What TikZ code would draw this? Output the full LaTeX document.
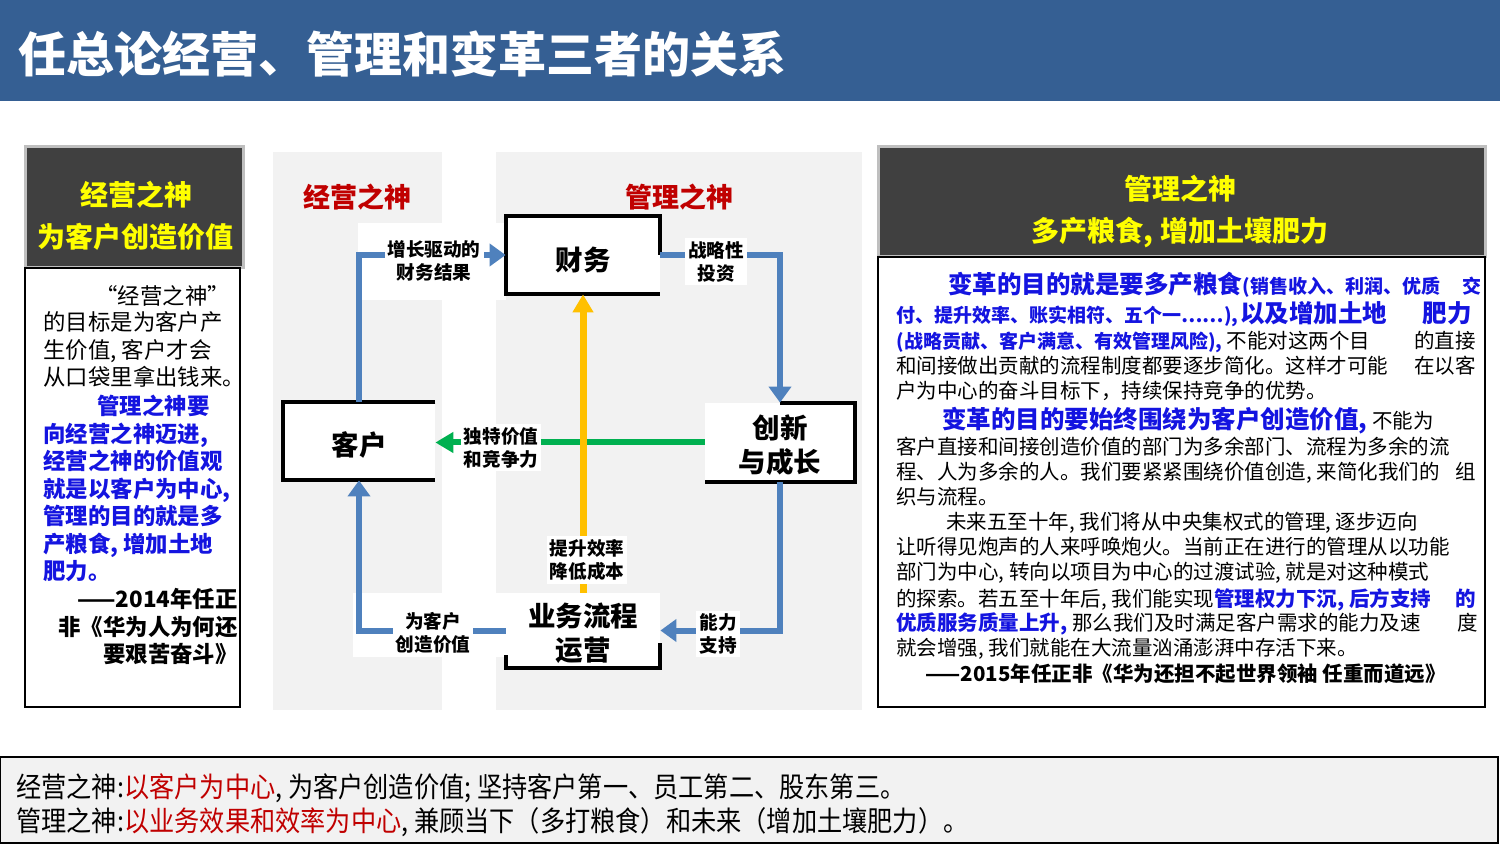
\documentclass[tikz,border=0pt]{standalone}
\usepackage{fontspec}
\setmainfont{Noto Sans CJK SC}
\newfontfamily\narrowcjk{Noto Sans CJK SC}[FakeStretch=0.9]
\usetikzlibrary{arrows.meta,positioning,calc}

\definecolor{titleblue}{HTML}{355F93}
\definecolor{headgray}{HTML}{404040}
\definecolor{edgegray}{HTML}{BFBFBF}
\definecolor{panelgray}{HTML}{F2F2F2}
\definecolor{arrowblue}{HTML}{4F81BD}
\definecolor{arrowyellow}{HTML}{FFC000}
\definecolor{arrowgreen}{HTML}{00B050}
\definecolor{textblue}{HTML}{1414E0}
\definecolor{godred}{HTML}{C00000}
\definecolor{headyellow}{HTML}{FFFF00}

\newcommand\hlbig[1]{{\color{textblue}\bfseries\fontsize{12.25}{14}\selectfont #1}}
\newcommand\hlsmall[1]{{\color{textblue}\bfseries\fontsize{9.5}{12}\selectfont #1}}
\newcommand\hlblue[1]{{\color{textblue}\bfseries #1}}
\newcommand\hlred[1]{{\color{godred}#1}}
% box text sits a little below the box middle
\newcommand\boxtext[2][4pt]{\raisebox{-#1}[\height][\depth]{\begin{tabular}{@{}c@{}}#2\end{tabular}}}

\begin{document}
\begin{tikzpicture}[x=0.5pt, y=-0.5pt,
    panel/.style={draw=black, line width=0.6pt, fill=white},
    headbox/.style={fill=headgray, draw=edgegray, line width=1.5pt},
    headtxt/.style={text=headyellow, align=center, font=\bfseries\fontsize{14}{21}\selectfont},
    flowbox/.style={fill=white, inner sep=0pt, align=center, font=\bfseries\fontsize{13.75}{16.5}\selectfont},
    boxline/.style={line width=2pt},
    bluearrow/.style={draw=arrowblue, line width=3pt, -{Triangle[width=11pt,length=8pt]}},
    yellowarrow/.style={draw=arrowyellow, line width=3.5pt, -{Triangle[width=10pt,length=9pt]}},
    greenarrow/.style={draw=arrowgreen, line width=3pt, -{Triangle[width=10pt,length=9pt]}},
    arrowlabel/.style={fill=white, inner xsep=1.5pt, inner ysep=1.5pt, align=center, font=\bfseries\fontsize{9.3}{11.5}\selectfont},
    godlabel/.style={text=godred, font=\bfseries\fontsize{13.5}{16}\selectfont},
    ltxt/.style={anchor=base west, inner sep=0pt, font=\fontsize{11.2}{13.75}\selectfont},
    rtxt/.style={anchor=base west, inner sep=0pt, font=\fontsize{10.25}{12.5}\selectfont}]
  \useasboundingbox (0,0) rectangle (1500,844);

  % title bar
  \fill[titleblue] (0,0) rectangle (1500,101);
  \node[anchor=base west, inner sep=0pt, text=white, font=\bfseries\fontsize{24}{28}\selectfont]
    (title) at (18,73) {任总论经营、管理和变革三者的关系};

  % left column
  \draw[headbox] (25,147) rectangle (243,268);
  \node[headtxt] (lhead) at (136,216) {经营之神\\为客户创造价值};
  \draw[panel] (25,268) rectangle (240,707);
  \node[ltxt] (la0) at (95,304.5) {“经营之神”};
  \foreach \t [count=\i] in {的目标是为客户产, {生价值, 客户才会}, 从口袋里拿出钱来。}
    \node[ltxt] (la\i) at (43,303.5+27.5*\i) {\t};
  \node[ltxt, text=textblue, font=\bfseries\fontsize{11.2}{13.75}\selectfont] (lb0) at (97,414.5) {管理之神要};
  \foreach \t [count=\i] in {{向经营之神迈进,}, 经营之神的价值观, {就是以客户为中心,}, 管理的目的就是多, {产粮食, 增加土地}, 肥力。}
    \node[ltxt, text=textblue, font=\bfseries\fontsize{11.2}{13.75}\selectfont] (lb\i) at (43,415+27.5*\i) {\t};
  \foreach \t [count=\i] in {——2014年任正, 非《华为人为何还, 要艰苦奋斗》}
    \node[ltxt, anchor=base east, font=\bfseries\fontsize{11.2}{13.75}\selectfont] (lc\i) at (238,580+27.5*\i) {\t};

  % centre diagram
  \fill[panelgray] (273,152) rectangle (442,710);
  \fill[panelgray] (496,152) rectangle (862,710);
  \fill[white] (358,223) rectangle (506,300);
  \fill[white] (353,593) rectangle (508,657);
  \node[godlabel] (jy) at (357,197) {经营之神};
  \node[godlabel] (gl) at (679,197) {管理之神};

  \node[flowbox, minimum width=77pt, minimum height=39pt] (cw) at (583,255) {\boxtext[4.5pt]{财务}};
  \node[flowbox, minimum width=76pt, minimum height=39pt] (kh) at (359,441) {\boxtext{客户}};
  \node[flowbox, minimum width=75pt, minimum height=39.5pt] (cx) at (780,442.5) {\boxtext[3pt]{创新\\与成长}};
  \node[flowbox, minimum width=77pt, minimum height=37.5pt] (yw) at (583,630.5) {\boxtext[3pt]{业务流程\\运营}};

  \draw[boxline] (cw.east) -- (cw.north east) -- (cw.north west) -- (cw.south west) -- (cw.south east);
  \draw[boxline] (kh.north east) -- (kh.north west) -- (kh.south west) -- (kh.south east);
  \draw[boxline] (cx.north) -- (cx.north east) -- (cx.south east) -- (cx.south west);
  \draw[boxline] (yw.south west) ++(0,-13) -- (yw.south west) -- (yw.south east) -- ++(0,-25);

  \draw[greenarrow] (cx.west) -- (cx.west -| kh.east);
  \draw[yellowarrow] (yw.north) -- (cw.south);
  \draw[bluearrow] (kh.north) |- (cw.west);
  \draw[bluearrow] (cw.east) -| (cx.north);
  \draw[bluearrow] (cx.south) |- (yw.east);
  \draw[bluearrow] (yw.west) -| (kh.south);

  \node[arrowlabel] (lgr) at (434,260.5) {增长驱动的\\财务结果};
  \node[arrowlabel] (lzl) at (716,261.5) {战略性\\投资};
  \node[arrowlabel] (lnl) at (718,634) {能力\\支持};
  \node[arrowlabel] (lwk) at (433,633) {为客户\\创造价值};
  \node[arrowlabel] (ldt) at (501,447.5) {独特价值\\和竞争力};
  \node[arrowlabel] (lts) at (587,560) {提升效率\\降低成本};

  % right column
  \draw[headbox] (878,147) rectangle (1485,257);
  \node[headtxt] (rhead) at (1180,211) {管理之神\\多产粮食, 增加土壤肥力};
  \draw[panel] (878,257) rectangle (1485,707);
  \node[rtxt] (r1a) at (948,294) {\hlbig{变革的目的就是要多产粮食}\hlsmall{(销售收入、利润、优质}};
  \node[rtxt, anchor=base east] (r1b) at (1482,294) {\hlsmall{交}};
  \node[rtxt] (r2a) at (896,323) {\hlsmall{付、提升效率、账实相符、五个一……),}};
  \node[rtxt] (r2b) at (1240,323) {\hlbig{以及增加土地}};
  \node[rtxt, anchor=base east] (r2c) at (1472,323) {\hlbig{肥力}};
  \node[rtxt] (r3a) at (896,349) {\hlsmall{(战略贡献、客户满意、有效管理风险),} 不能对这两个目};
  \node[rtxt, anchor=base east] (r3b) at (1476,349) {的直接};
  \node[rtxt] (r4a) at (896,374) {和间接做出贡献的流程制度都要逐步简化。这样才可能};
  \node[rtxt, anchor=base east] (r4b) at (1476,374) {在以客};
  \node[rtxt] (r5) at (896,399) {户为中心的奋斗目标下，持续保持竞争的优势。};
  \node[rtxt] (r6) at (942,429) {\hlbig{变革的目的要始终围绕为客户创造价值,} 不能为};
  \node[rtxt] (r7) at (896,455) {客户直接和间接创造价值的部门为多余部门、流程为多余的流};
  \node[rtxt] (r8a) at (896,480) {程、人为多余的人。我们要紧紧围绕价值创造, 来简化我们的};
  \node[rtxt, anchor=base east] (r8b) at (1476,480) {组};
  \node[rtxt] (r9) at (896,505) {织与流程。};
  \node[rtxt] (r10) at (946,530) {未来五至十年, 我们将从中央集权式的管理, 逐步迈向};
  \node[rtxt] (r11) at (896,555) {让听得见炮声的人来呼唤炮火。当前正在进行的管理从以功能};
  \node[rtxt] (r12) at (896,580) {部门为中心, 转向以项目为中心的过渡试验, 就是对这种模式};
  \node[rtxt] (r13a) at (896,606) {的探索。若五至十年后, 我们能实现\hlblue{管理权力下沉, 后方支持}};
  \node[rtxt, anchor=base east] (r13b) at (1476,606) {\hlblue{的}};
  \node[rtxt] (r14a) at (896,631) {\hlblue{优质服务质量上升,} 那么我们及时满足客户需求的能力及速};
  \node[rtxt, anchor=base east] (r14b) at (1478,631) {度};
  \node[rtxt] (r15) at (896,655) {就会增强, 我们就能在大流量汹涌澎湃中存活下来。};
  \node[rtxt, font=\bfseries\fontsize{10.25}{12.5}\selectfont] (r16) at (925,681) {——2015年任正非《华为还担不起世界领袖 任重而道远》};

  % bottom summary bar
  \draw[fill=panelgray, line width=0.6pt] (0,757) rectangle (1498,843);
  \node[anchor=base west, inner sep=0pt, font=\narrowcjk\fontsize{14}{17}\selectfont] (sum1) at (16,797)
    {经营之神:\hlred{以客户为中心}, 为客户创造价值; 坚持客户第一、员工第二、股东第三。};
  \node[anchor=base west, inner sep=0pt, font=\narrowcjk\fontsize{14}{17}\selectfont] (sum2) at (16,831)
    {管理之神:\hlred{以业务效果和效率为中心}, 兼顾当下（多打粮食）和未来（增加土壤肥力）。};
\end{tikzpicture}
\end{document}
